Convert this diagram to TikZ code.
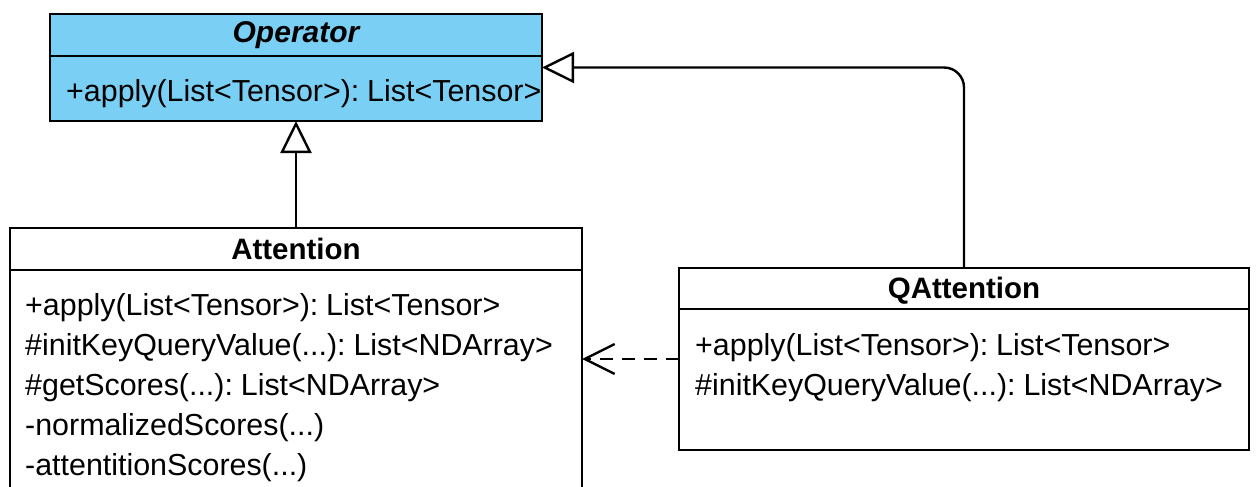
\documentclass[tikz,border=0pt]{standalone}
\usepackage{fontspec}
\setmainfont[WordSpace=0.6]{Liberation Sans}
\usetikzlibrary{arrows.meta}
\definecolor{opblue}{HTML}{7ACFF5}

\begin{document}
\begin{tikzpicture}[x=1pt,y=-1pt,
  umlbox/.style={draw, line width=2.6pt, anchor=north west, inner sep=0pt, outer sep=0pt},
  divider/.style={line width=2.6pt},
  member/.style={anchor=base west, inner sep=0pt, font=\fontsize{30.4}{36}\selectfont},
  classname/.style={anchor=base, inner sep=0pt, font=\fontsize{29.5}{36}\selectfont\bfseries},
  inherit/.style={draw, line width=2.4pt, -{Triangle[open, length=32pt, width=31pt]}},
  depends/.style={draw, line width=2.4pt, dash pattern=on 13pt off 9pt, -{Straight Barb[length=30pt, width=30pt]}}
]
\clip (0,0) rectangle (1256,487);

% class boxes
\node[umlbox, fill=opblue, minimum width=492pt, minimum height=107pt] (op) at (50,14) {};
\node[umlbox, minimum width=572pt, minimum height=290pt] (att) at (10,228) {};
\node[umlbox, minimum width=570pt, minimum height=182pt] (qatt) at (679,268) {};

% header separators
\draw[divider] ([yshift=-42pt]op.north west) -- ([yshift=-42pt]op.north east);
\draw[divider] ([yshift=-42pt]att.north west) -- ([yshift=-42pt]att.north east);
\draw[divider] ([yshift=-41pt]qatt.north west) -- ([yshift=-41pt]qatt.north east);

% Operator
\node[classname, font=\fontsize{30}{36}\selectfont\bfseries\itshape] (opname) at (296,43) {Operator};
\node[member] (opm1) at (66,102) {+apply(List<Tensor>): List<Tensor>};

% Attention
\node[classname] (attname) at (296,259) {Attention};
\node[member] (attm1) at (25,315) {+apply(List<Tensor>): List<Tensor>};
\node[member] (attm2) at (25,355) {\#initKeyQueryValue(...): List<NDArray>};
\node[member] (attm3) at (25,395) {\#getScores(...): List<NDArray>};
\node[member] (attm4) at (25,435) {-normalizedScores(...)};
\node[member] (attm5) at (25,475) {-attentitionScores(...)};

% QAttention
\node[classname] (qattname) at (964,298) {QAttention};
\node[member] (qattm1) at (695,355) {+apply(List<Tensor>): List<Tensor>};
\node[member] (qattm2) at (695,395) {\#initKeyQueryValue(...): List<NDArray>};

% relations
\draw[inherit] (att.north) -- (op.south);
\draw[inherit, rounded corners=20pt] (qatt.north) |- (op.east);
\draw[depends] (qatt.west) -- (att.east |- qatt.west);
\end{tikzpicture}
\end{document}
